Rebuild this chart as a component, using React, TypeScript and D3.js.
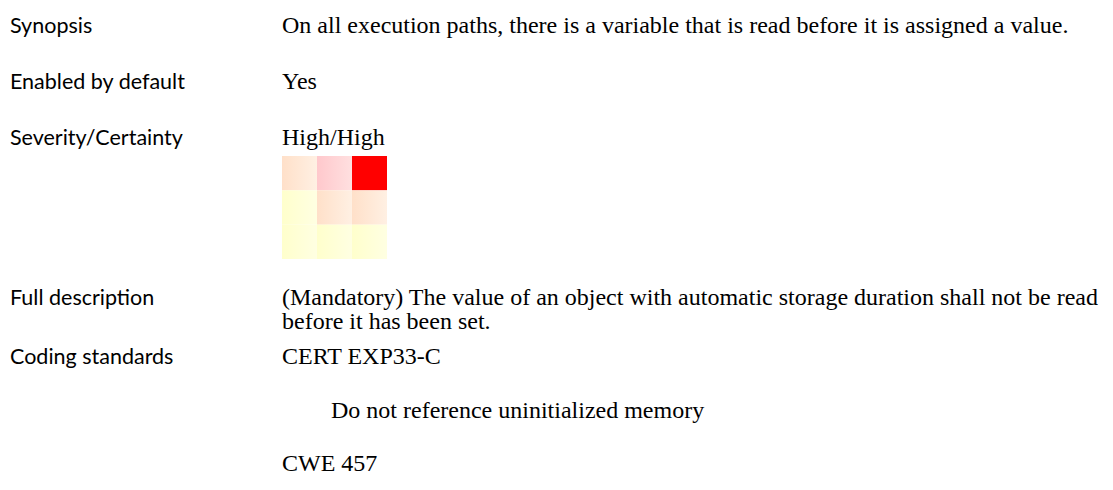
import React, { useEffect, useRef } from 'react';
import * as d3 from 'd3';

// Property rows of the checker documentation
const labels = ['Synopsis', 'Enabled by default', 'Severity/Certainty', 'Full description', 'Coding standards'];
const synopsis = ['On all execution paths, there is a variable that is read before it is assigned a value.'];
const enabled = ['Yes'];
const severity = ['High/High'];
const description = [
  '(Mandatory) The value of an object with automatic storage duration shall not be read',
  'before it has been set.',
];
const standards = ['CERT EXP33-C', 'Do not reference uninitialized memory', 'CWE 457'];

// Severity (rows, top = high) x certainty (columns, right = high) risk grid
const severityLevels = ['High', 'Medium', 'Low'];
const certaintyLevels = ['Low', 'Medium', 'High'];
const riskLevels = [
  [2, 3, 4],
  [1, 2, 2],
  [1, 1, 1],
];

const App = () => {
  const ref = useRef<SVGSVGElement | null>(null);

  useEffect(() => {
    const svg = d3.select(ref.current);
    svg.selectAll('*').remove();

    const width = 1113;
    const height = 490;
    svg.attr('width', width).attr('height', height);

    const labelFont = 'Lato, "Noto Sans", sans-serif';
    const valueFont = '"Liberation Serif", "Times New Roman", serif';
    const labelX = 10;
    const valueX = 282;

    const g = svg.append('g');

    // Row labels
    const labelY = [33, 89, 145, 305, 364];
    labels.forEach((t, i) => {
      g.append('text')
        .attr('x', labelX)
        .attr('y', labelY[i])
        .style('font-family', labelFont)
        .style('font-size', '21.5px')
        .style('fill', '#000')
        .text(t);
    });

    const value = (t: string, x: number, y: number) =>
      g.append('text')
        .attr('x', x)
        .attr('y', y)
        .style('font-family', valueFont)
        .style('font-size', '24px')
        .style('fill', '#000')
        .text(t);

    value(synopsis[0], valueX, 33);
    value(enabled[0], valueX, 89);
    value(severity[0], valueX, 145);
    value(description[0], valueX, 305);
    value(description[1], valueX, 329);
    value(standards[0], valueX, 364);
    value(standards[1], 331, 418);
    value(standards[2], valueX, 471);

    // Risk grid
    const x = d3.scaleBand().domain(certaintyLevels).range([282, 387]);
    const y = d3.scaleBand().domain(severityLevels).range([156, 259]);

    const colors: Record<number, [string, string]> = {
      1: ['#ffffcc', '#ffffe2'],
      2: ['#ffe0c9', '#fff0e3'],
      3: ['#ffc8cc', '#ffe0e0'],
      4: ['#ff0000', '#ff0000'],
    };

    const defs = svg.append('defs');
    Object.entries(colors).forEach(([k, [c0, c1]]) => {
      const lg = defs.append('linearGradient').attr('id', `risk-${k}`)
        .attr('x1', '0%').attr('x2', '100%').attr('y1', '0%').attr('y2', '0%');
      lg.append('stop').attr('offset', '0%').attr('stop-color', c0);
      lg.append('stop').attr('offset', '100%').attr('stop-color', c1);
    });

    const cells = severityLevels.flatMap((s, r) =>
      certaintyLevels.map((c, ci) => ({ s, c, v: riskLevels[r][ci] }))
    );

    g.selectAll('rect.cell')
      .data(cells)
      .enter()
      .append('rect')
      .attr('class', 'cell')
      .attr('x', d => x(d.c)!)
      .attr('y', d => y(d.s)!)
      .attr('width', x.bandwidth())
      .attr('height', y.bandwidth())
      .attr('fill', d => `url(#risk-${d.v})`);
  }, []);

  return <svg ref={ref} style={{ position: 'absolute', left: 0, top: 0, background: '#fff' }} />;
};

export default App;
